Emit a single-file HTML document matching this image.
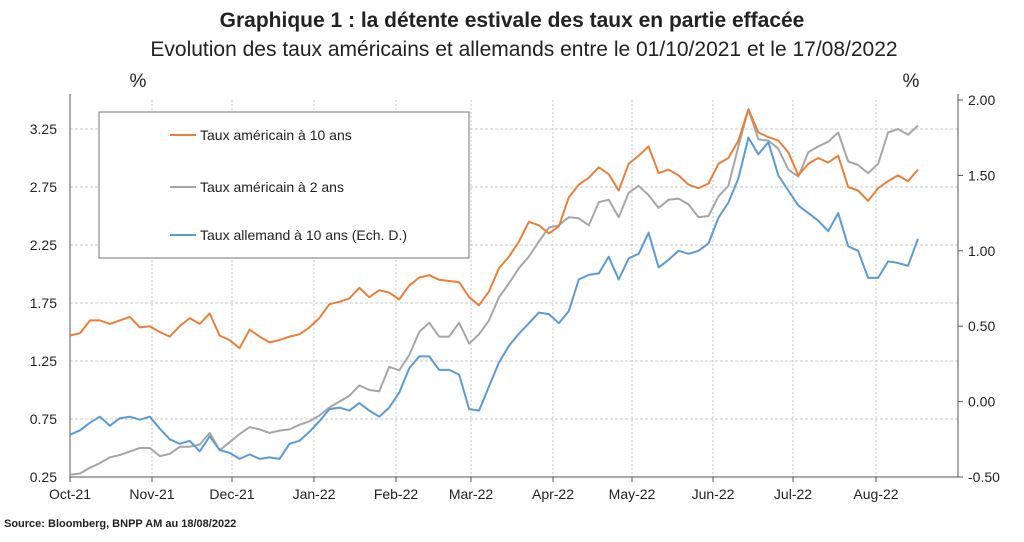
<!DOCTYPE html>
<html><head><meta charset="utf-8"><style>
body{margin:0;background:#fff;width:1024px;height:537px;overflow:hidden;font-family:"Liberation Sans Narrow","Liberation Sans",sans-serif;}
svg text{font-family:"Liberation Sans Narrow","Liberation Sans",sans-serif;fill:#222;}
</style></head><body>
<svg id="chart" width="1024" height="537" viewBox="0 0 1024 537">
<text x="512" y="27" text-anchor="middle" font-size="21" font-weight="bold">Graphique 1 :  la détente estivale des taux en partie effacée</text>
<text x="524" y="56" text-anchor="middle" font-size="21">Evolution des taux américains et allemands entre le 01/10/2021 et le 17/08/2022</text>
<text x="138" y="87" text-anchor="middle" font-size="19">%</text>
<text x="911" y="87" text-anchor="middle" font-size="19">%</text>
<g id="grid"></g><g id="axes"></g><g id="series"></g>
<g>
<rect x="99" y="112" width="370" height="146" fill="#fff" stroke="#777" stroke-width="1"/>
<line x1="170" y1="135" x2="196" y2="135" stroke="#e8803c" stroke-width="2"/>
<text x="200" y="140" font-size="14">Taux américain à 10 ans</text>
<line x1="170" y1="187" x2="196" y2="187" stroke="#a6a6a6" stroke-width="2"/>
<text x="200" y="192" font-size="14">Taux américain à 2 ans</text>
<line x1="170" y1="235" x2="196" y2="235" stroke="#5b9bd5" stroke-width="2"/>
<text x="200" y="240" font-size="14">Taux allemand à 10 ans (Ech. D.)</text>
</g>
<text x="4" y="527" font-size="11" font-weight="bold">Source: Bloomberg, BNPP AM au 18/08/2022</text>
</svg>
<script>
const monthLabels=["Oct-21","Nov-21","Dec-21","Jan-22","Feb-22","Mar-22","Apr-22","May-22","Jun-22","Jul-22","Aug-22"];
const leftTicks=[0.25,0.75,1.25,1.75,2.25,2.75,3.25];
const rightTicks=[-0.5,0,0.5,1,1.5,2];
const us10=[1.47,1.49,1.60,1.60,1.57,1.60,1.63,1.54,1.55,1.50,1.46,1.55,1.62,1.57,1.66,1.47,1.43,1.36,1.52,1.46,1.41,1.43,1.46,1.48,1.54,1.62,1.74,1.76,1.79,1.88,1.80,1.86,1.84,1.78,1.90,1.97,1.99,1.95,1.94,1.93,1.80,1.73,1.85,2.05,2.15,2.28,2.45,2.42,2.35,2.41,2.66,2.77,2.83,2.92,2.86,2.72,2.95,3.02,3.10,2.87,2.90,2.85,2.77,2.74,2.78,2.95,3.00,3.15,3.42,3.22,3.18,3.15,3.05,2.85,2.95,3.00,2.96,3.02,2.75,2.72,2.63,2.74,2.80,2.85,2.80,2.90];
const us2=[0.27,0.28,0.33,0.37,0.42,0.44,0.47,0.50,0.50,0.43,0.45,0.51,0.51,0.53,0.63,0.48,0.55,0.62,0.68,0.66,0.63,0.65,0.66,0.70,0.73,0.78,0.85,0.90,0.95,1.04,1.00,0.99,1.20,1.17,1.30,1.50,1.58,1.46,1.46,1.58,1.40,1.48,1.60,1.80,1.92,2.05,2.15,2.28,2.40,2.42,2.49,2.48,2.42,2.62,2.64,2.49,2.70,2.76,2.68,2.57,2.64,2.65,2.60,2.49,2.50,2.67,2.76,3.10,3.42,3.16,3.15,3.08,2.90,2.84,3.05,3.10,3.14,3.22,2.97,2.94,2.87,2.95,3.22,3.25,3.20,3.28];
const de10=[-0.22,-0.19,-0.14,-0.10,-0.16,-0.11,-0.10,-0.12,-0.10,-0.18,-0.25,-0.28,-0.26,-0.33,-0.23,-0.32,-0.34,-0.38,-0.35,-0.38,-0.37,-0.38,-0.28,-0.26,-0.20,-0.13,-0.05,-0.04,-0.06,-0.01,-0.06,-0.10,-0.04,0.06,0.22,0.30,0.30,0.21,0.21,0.18,-0.05,-0.06,0.10,0.26,0.37,0.45,0.52,0.59,0.58,0.52,0.60,0.81,0.84,0.85,0.96,0.81,0.95,0.98,1.12,0.89,0.94,1.00,0.98,1.00,1.05,1.22,1.32,1.48,1.75,1.64,1.72,1.50,1.40,1.30,1.25,1.20,1.13,1.25,1.03,1.00,0.82,0.82,0.93,0.92,0.90,1.08];

const NS="http://www.w3.org/2000/svg";
const L=70,R=958,T=100,B=477,DX0=70,DX1=918;
const yL=v=>B-(v-0.25)/(3.5-0.25)*(B-T);
const yR=v=>B-(v+0.5)/(2.5)*(B-T);
const xI=(i,n)=>DX0+i*(DX1-DX0)/(n-1);
const monthX=[70,152,232,314,396,471,553,632,713,793,876];
function mk(tag,attrs,parent){const e=document.createElementNS(NS,tag);for(const k in attrs)e.setAttribute(k,attrs[k]);parent.appendChild(e);return e;}
const grid=document.getElementById('grid'),axes=document.getElementById('axes'),ser=document.getElementById('series');
leftTicks.forEach(v=>{
  const y=yL(v);
  if(v>0.25){const g=mk('line',{x1:L,x2:R,y1:y,y2:y,stroke:'#c8c8c8','stroke-dasharray':'3,2'},grid);
  
  }
  const t=mk('text',{x:57,y:y+5,'text-anchor':'end','font-size':14},axes);t.textContent=v.toFixed(2);
  
  
});
monthX.forEach((x,i)=>{
  if(i>0){const g=mk('line',{x1:x,x2:x,y1:T,y2:B,stroke:'#c8c8c8','stroke-dasharray':'2,2'},grid);
  
  }
  mk('line',{x1:x,x2:x,y1:B,y2:B+5,stroke:'#555'},axes);
});
monthLabels.forEach((m,i)=>{
  const t=mk('text',{x:monthX[i],y:499,'text-anchor':'middle','font-size':14},axes);t.textContent=m;
  
  
});
rightTicks.forEach(v=>{
  const y=yR(v);
  mk('line',{x1:R,x2:R+5,y1:y,y2:y,stroke:'#555'},axes);
  const t=mk('text',{x:968,y:y+5,'font-size':14},axes);t.textContent=v.toFixed(2);
  
  
});
const la=mk('line',{x1:L,x2:L,y1:T-6,y2:B,stroke:'#555'},axes);


const ra=mk('line',{x1:R,x2:R,y1:T-6,y2:B,stroke:'#555'},axes);


const xa=mk('line',{x1:L,x2:R,y1:B,y2:B,stroke:'#555'},axes);


function line(arr,fy,color,name){
  const d=arr.map((v,i)=>(i?'L':'M')+xI(i,arr.length).toFixed(1)+','+fy(v).toFixed(1)).join('');
  const p=mk('path',{d:d,fill:'none',stroke:color,'stroke-width':2,'stroke-linejoin':'round'},ser);
  
  
}
line(us2,yL,'#a6a6a6','us-2y-line');
line(us10,yL,'#e8803c','us-10y-line');
line(de10,yR,'#5b9bd5','de-10y-line');
</script>
</body></html>
